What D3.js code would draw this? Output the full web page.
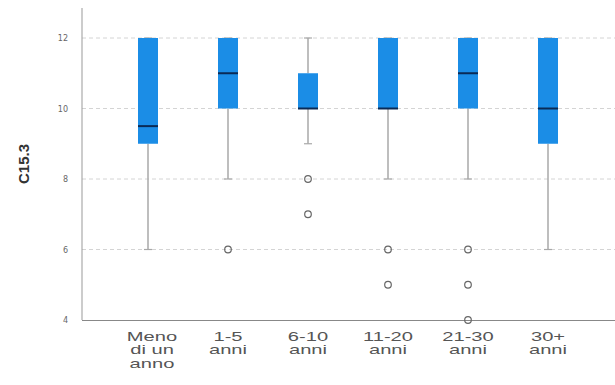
<!DOCTYPE html>
<html><head><meta charset="utf-8">
<script src="https://cdn.jsdelivr.net/npm/d3@7"></script>
<style>body{margin:0;background:#fff}svg{display:block}</style>
</head><body>
<svg id="c" width="615" height="385"></svg>
<script>
const categories = [["Meno","di un","anno"],["1-5","anni"],["6-10","anni"],["11-20","anni"],["21-30","anni"],["30+","anni"]];
const whiskerLow = [6, 8, 9, 8, 8, 6];
const q1 =         [9, 10, 10, 10, 10, 9];
const median =     [9.5, 11, 10, 10, 11, 10];
const q3 =         [12, 12, 11, 12, 12, 12];
const whiskerHigh =[12, 12, 12, 12, 12, 12];
const outliers =   [[], [6], [8, 7], [6, 5], [6, 5, 4], []];
const yTicks = [4, 6, 8, 10, 12];
const yTitle = "C15.3";

(function () {
const svg = d3.select("#c");
const mLeft = 82, mRight = 615, mTop = 38, mBottom = 320;
const x = d3.scalePoint().domain(d3.range(categories.length)).range([148, 548]);
const y = d3.scaleLinear().domain([4, 12]).range([mBottom, mTop]);

// grid
svg.append("g").selectAll("line").data(yTicks.filter(t => t > 4)).join("line")
  .attr("x1", mLeft).attr("x2", mRight).attr("y1", d => y(d)).attr("y2", d => y(d))
  .attr("stroke", "#d4d4d4").attr("stroke-width", 1).attr("stroke-dasharray", "4,3");

// axes
const yAxis = d3.axisLeft(y).tickValues(yTicks).tickSize(0).tickPadding(14);
const gy = svg.append("g").attr("transform", `translate(${mLeft},0)`).call(yAxis);
gy.select(".domain").attr("stroke", "#999").attr("d", `M0,8V${mBottom}`);
gy.selectAll("text").attr("font-family", "DejaVu Sans, sans-serif").attr("font-size", 8).attr("fill", "#666");

svg.append("line").attr("x1", mLeft).attr("x2", mRight).attr("y1", mBottom + 0.5).attr("y2", mBottom + 0.5)
  .attr("stroke", "#888").attr("stroke-width", 1.2);

svg.append("text").attr("transform", `translate(29,164) rotate(-90)`)
  .attr("text-anchor", "middle").attr("font-family", "Arial, Liberation Sans, sans-serif")
  .attr("font-weight", "bold").attr("font-size", 15).attr("fill", "#333").text(yTitle);

// x labels
const xl = svg.append("g");
categories.forEach((lines, i) => {
  const cx = x(i) + (i === 0 ? 4 : 0);
  const t = xl.append("text").attr("transform", `translate(${cx},341) scale(1.55,1)`).attr("text-anchor", "middle")
    .attr("font-family", "Liberation Sans, Arial, sans-serif").attr("font-size", 13).attr("fill", "#555");
  lines.forEach((l, j) => t.append("tspan").attr("x", 0).attr("dy", j === 0 ? 0 : 13.5).text(l));
});

// boxes
const bw = 20, cap = 8;
const g = svg.append("g");
categories.forEach((_, i) => {
  const cx = x(i);
  g.append("line").attr("x1", cx).attr("x2", cx).attr("y1", y(whiskerLow[i])).attr("y2", y(q1[i]))
    .attr("stroke", "#a8a8a8").attr("stroke-width", 1.5);
  g.append("line").attr("x1", cx).attr("x2", cx).attr("y1", y(whiskerHigh[i])).attr("y2", y(q3[i]))
    .attr("stroke", "#a8a8a8").attr("stroke-width", 1.5);
  g.append("line").attr("x1", cx - cap / 2).attr("x2", cx + cap / 2).attr("y1", y(whiskerLow[i])).attr("y2", y(whiskerLow[i]))
    .attr("stroke", "#a8a8a8").attr("stroke-width", 1.2);
  g.append("line").attr("x1", cx - cap / 2).attr("x2", cx + cap / 2).attr("y1", y(whiskerHigh[i])).attr("y2", y(whiskerHigh[i]))
    .attr("stroke", "#a8a8a8").attr("stroke-width", 1.2);
  g.append("rect").attr("x", cx - bw / 2).attr("width", bw).attr("y", y(q3[i])).attr("height", y(q1[i]) - y(q3[i]))
    .attr("fill", "#1b8de6");
  g.append("line").attr("x1", cx - bw / 2).attr("x2", cx + bw / 2).attr("y1", y(median[i])).attr("y2", y(median[i]))
    .attr("stroke", "#0a2a55").attr("stroke-width", 2);
  outliers[i].forEach(v => {
    g.append("circle").attr("cx", cx).attr("cy", y(v)).attr("r", 3.3)
      .attr("fill", "none").attr("stroke", "#666").attr("stroke-width", 1.2);
  });
});
})();
</script>
</body></html>
